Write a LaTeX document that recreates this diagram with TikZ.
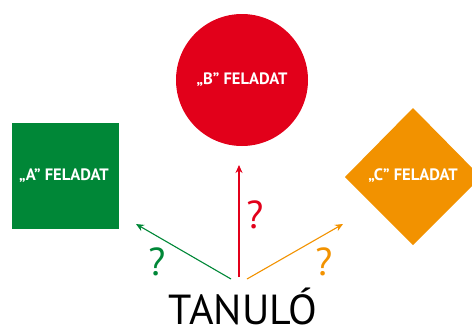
\documentclass[tikz,border=0pt]{standalone}
\usepackage{fontspec}
\setmainfont{PT Sans}
\usetikzlibrary{arrows.meta,shapes.geometric}
\definecolor{fgreen}{RGB}{0,135,55}
\definecolor{fred}{RGB}{226,0,26}
\definecolor{forange}{RGB}{242,146,0}
\tikzset{
  label/.style={text=white,font=\bfseries\fontsize{16.5}{18}\selectfont,inner sep=0pt},
  conn/.style={line width=1.1pt,-{Stealth[length=8pt,width=7pt]}},
  qmark/.style={font=\fontsize{39}{41}\selectfont,inner sep=0pt}
}
\begin{document}
\begin{tikzpicture}[x=1pt,y=-1pt]
\useasboundingbox (0,0) rectangle (472,327);
\clip (0,0) rectangle (472,327);
\fill[fgreen] (12,123) rectangle (119,229);
\node[label] (a) at (64,176) {„A” FELADAT};
\fill[fred] (242,80) circle[radius=66];
\node[label] (b) at (242,80) {„B” FELADAT};
\fill[forange] (345,177) -- (413,108) -- (481,177) -- (413,245) -- cycle;
\node[label] (c) at (413,176) {„C” FELADAT};
\node[font=\fontsize{42}{44}\selectfont,inner sep=0pt,anchor=base] (t) at (243,324) {TANULÓ};
\coordinate (s1) at (231,279);
\coordinate (s2) at (239,277);
\coordinate (s3) at (247,279);
\coordinate (e1) at (136,224);
\coordinate (e2) at (239,165);
\coordinate (e3) at (343,224);
\draw[conn,fgreen] (s1) -- (e1);
\draw[conn,fred] (s2) -- (e2);
\draw[conn,forange] (s3) -- (e3);
\node[qmark,text=fred] (q2) at (255,215) {?};
\node[qmark,text=fgreen] (q1) at (157,262) {?};
\node[qmark,text=forange] (q3) at (324,262) {?};
\end{tikzpicture}
\end{document}
